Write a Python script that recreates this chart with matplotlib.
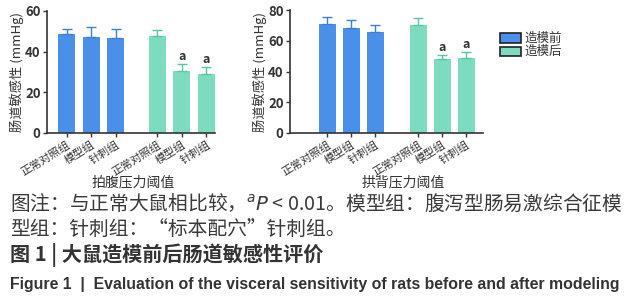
import matplotlib.pyplot as plt

plt.rcParams['font.family'] = ['Noto Sans CJK SC', 'DejaVu Sans']

groups = ['正常对照组', '模型组', '针刺组']
series = ['造模前', '造模后']

# 拍腹压力阈值
abd_before = [48.8, 47.4, 46.7]
abd_before_err = [2.5, 4.9, 4.6]
abd_after = [47.7, 30.3, 28.9]
abd_after_err = [3.0, 3.4, 3.5]

# 拱背压力阈值
arch_before = [71.0, 68.3, 65.9]
arch_before_err = [4.7, 5.2, 4.3]
arch_after = [70.4, 48.3, 48.5]
arch_after_err = [4.4, 2.6, 4.3]

sig = ['', 'a', 'a']

blue = '#4a8fe8'
green = '#7ddbbf'
ink = '#333333'

fig = plt.figure(figsize=(6.32, 3.0), dpi=100)


def panel(rect, before, be, after, ae, ymax, ystep, xlim, gap, xlabel, xl_x):
    ax = fig.add_axes(rect)
    xb = [0, 1, 2]
    xa = [gap, gap + 1, gap + 2]
    ax.bar(xb, before, width=0.7, color=blue, zorder=2)
    ax.bar(xa, after, width=0.7, color=green, zorder=2)
    ax.errorbar(xb, before, yerr=[[0] * 3, be], fmt='none', ecolor='#3d7ed6',
                elinewidth=1, capsize=3.5, capthick=1, zorder=3)
    ax.errorbar(xa, after, yerr=[[0] * 3, ae], fmt='none', ecolor='#5cc4a5',
                elinewidth=1, capsize=3.5, capthick=1, zorder=3)
    for x, v, e, s in zip(xa, after, ae, sig):
        if s:
            ax.text(x, v + e + ymax * 0.01, s, ha='center', va='bottom',
                    fontsize=9, fontweight='bold', color=ink)
    ax.set_xlim(*xlim)
    ax.set_ylim(0, ymax)
    ax.set_yticks(range(0, ymax + 1, ystep))
    ax.set_xticks(xb + xa)
    ax.set_xticklabels(groups * 2, rotation=32, ha='right', fontsize=8,
                       rotation_mode='anchor', color=ink)
    for t in ax.get_yticklabels():
        t.set_fontweight('bold')
        t.set_fontsize(9.5)
        t.set_color(ink)
    for side in ['top', 'right']:
        ax.spines[side].set_visible(False)
    for side in ['left', 'bottom']:
        ax.spines[side].set_linewidth(1.2)
        ax.spines[side].set_color(ink)
    ax.tick_params(axis='both', length=3, width=1, color=ink, pad=1.5)
    ax.set_ylabel('肠道敏感性 (mmHg)', fontsize=9.5, color=ink, labelpad=1)
    fig.text(xl_x / 632, 1 - 182 / 300, xlabel, fontsize=10, ha='center',
             va='center', color=ink)
    return ax


panel([47 / 632, 167 / 300, 168 / 632, 122 / 300], abd_before, abd_before_err,
      abd_after, abd_after_err, 60, 20, (-0.8, 6.05), 3.7, '拍腹压力阈值', 133)
panel([290 / 632, 167 / 300, 193 / 632, 123 / 300], arch_before, arch_before_err,
      arch_after, arch_after_err, 80, 20, (-1.55, 6.5), 3.8, '拱背压力阈值', 403)

# legend
for i, (name, c) in enumerate(zip(series, [blue, green])):
    y = 1 - (38 + i * 13) / 300
    fig.patches.append(plt.Rectangle((500 / 632, y - 4.5 / 300), 21 / 632, 9 / 300,
                                     transform=fig.transFigure, facecolor=c,
                                     edgecolor='#222222', linewidth=1.2))
    fig.text(524 / 632, y, name, fontsize=9, va='center', color=ink)

# caption
fig.text(10 / 632, 1 - 204 / 300,
         '图注：与正常大鼠相比较，$^{a}$$\\it{P}$ < 0.01。模型组：腹泻型肠易激综合征模',
         fontsize=14.2, va='center', color='#3a3a3a')
fig.text(10 / 632, 1 - 229 / 300, '型组：针刺组：“标本配穴”针刺组。',
         fontsize=14.2, va='center', color='#3a3a3a')
fig.text(10 / 632, 1 - 255 / 300, '图 1 | 大鼠造模前后肠道敏感性评价',
         fontsize=14.5, va='center', fontweight='bold', color=ink)
fig.text(10 / 632, 1 - 285 / 300,
         'Figure 1  |  Evaluation of the visceral sensitivity of rats before and after modeling',
         fontsize=11.4, va='center', fontweight='bold', color=ink,
         family=['Liberation Sans', 'DejaVu Sans'])

fig.savefig('out.png', dpi=100)
